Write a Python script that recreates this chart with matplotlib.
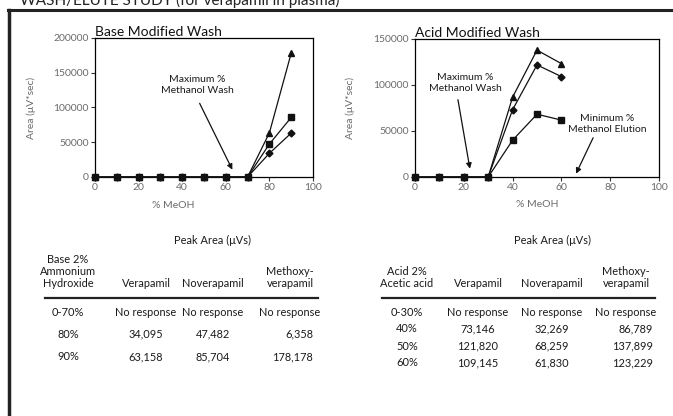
import numpy as np
import matplotlib
matplotlib.use("Agg")
import matplotlib.pyplot as plt
from matplotlib.lines import Line2D

plt.rcParams['font.family'] = ['Lato', 'DejaVu Sans']

W, H = 673, 416

# base modified wash
base_x = [0, 10, 20, 30, 40, 50, 60, 70, 80, 90]
base_verapamil = [0, 0, 0, 0, 0, 0, 0, 0, 34095, 63158]
base_noverapamil = [0, 0, 0, 0, 0, 0, 0, 0, 47482, 85704]
base_methoxy = [0, 0, 0, 0, 0, 0, 0, 0, 63580, 178178]

# acid modified wash
acid_x = [0, 10, 20, 30, 40, 50, 60]
acid_verapamil = [0, 0, 0, 0, 73146, 121820, 109145]
acid_noverapamil = [0, 0, 0, 0, 40000, 68259, 61830]
acid_methoxy = [0, 0, 0, 0, 86789, 137899, 123229]

# tables
col_names = ["Verapamil", "Noverapamil", "Methoxy-\nverapamil"]
base_rows = ["0-70%", "80%", "90%"]
base_table = [["No response", "No response", "No response"],
              ["34,095", "47,482", "6,358"],
              ["63,158", "85,704", "178,178"]]
acid_rows = ["0-30%", "40%", "50%", "60%"]
acid_table = [["No response", "No response", "No response"],
              ["73,146", "32,269", "86,789"],
              ["121,820", "68,259", "137,899"],
              ["109,145", "61,830", "123,229"]]

GRAY = '#6b6b6b'
INK = '#1a1a1a'


def fx(x):
    return x / W


def fy(y):
    return 1 - y / H


fig = plt.figure(figsize=(W / 100, H / 100), dpi=100)

# frame of the page
fig.add_artist(Line2D([fx(9), fx(9)], [fy(10), fy(420)], color='#222222', lw=2.5))
fig.add_artist(Line2D([fx(8), fx(680)], [fy(10), fy(10)], color='#222222', lw=2.2))
fig.text(fx(20), fy(5), "WASH/ELUTE STUDY (for verapamil in plasma)",
         fontsize=11, color='#222222', va='baseline')


def make_axes(left, right, top, bottom):
    return fig.add_axes([fx(left), fy(bottom), fx(right - left), (bottom - top) / H])


def style(ax, title, ymax, xlab_x, ylab_x):
    ax.set_xlim(0, 100)
    ax.set_ylim(0, ymax)
    ax.set_xticks(range(0, 101, 20))
    ax.set_yticks(range(0, ymax + 1, 50000))
    ax.tick_params(direction='out', length=3, width=0.8, labelsize=7.5,
                   labelcolor=GRAY, color='#333333', pad=1.5)
    for sp in ax.spines.values():
        sp.set_linewidth(0.9)
    ax.set_title(title, loc='left', fontsize=10, pad=1, color='#111111')
    ax.set_xlabel("% MeOH", fontsize=7.5, color=GRAY)
    ax.xaxis.set_label_coords(xlab_x, -0.17)
    ax.set_ylabel("Area (\u03bcV*sec)", fontsize=7.5, color=GRAY)
    ax.yaxis.set_label_coords(ylab_x, 0.5)


def series(ax, x, y, marker, ms):
    ax.plot(x, y, color='#111111', lw=0.9, marker=marker, ms=ms, clip_on=False,
            zorder=3)


def note(ax, text, pos, tail, head):
    ax.text(pos[0], pos[1], text, ha='center', va='center', fontsize=7.5,
            linespacing=1.3, color=INK)
    ax.annotate("", xy=head, xytext=tail,
                arrowprops=dict(arrowstyle='-|>', color='#111111', lw=0.9,
                                mutation_scale=8, shrinkA=0, shrinkB=0))


ax1 = make_axes(95, 313, 38, 177)
series(ax1, base_x, base_verapamil, 'D', 3.5)
series(ax1, base_x, base_noverapamil, 's', 3.8)
series(ax1, base_x, base_methoxy, '^', 4.2)
style(ax1, "Base Modified Wash", 200000, 0.36, -0.27)
note(ax1, "Maximum %\nMethanol Wash", (47, 132000), (48, 106000), (63, 10500))

ax2 = make_axes(415, 659, 39, 177)
series(ax2, acid_x, acid_verapamil, 'D', 3.5)
series(ax2, acid_x, acid_noverapamil, 's', 3.8)
series(ax2, acid_x, acid_methoxy, '^', 4.2)
style(ax2, "Acid Modified Wash", 150000, 0.5, -0.245)
note(ax2, "Maximum %\nMethanol Wash", (20.5, 102000), (17.6, 84000), (22.5, 9000))
note(ax2, "Minimum %\nMethanol Elution", (78.7, 57500), (73, 42600), (66, 3600))


def table(head_x, first_col, rows, cells, col_x, ys, rule, right_x):
    fs = 7.9
    fig.text(fx(head_x), fy(240), "Peak Area (\u03bcVs)", fontsize=fs,
             ha='center', va='center', color=INK)
    fig.text(fx(col_x[0]), fy(289), first_col, fontsize=fs, ha='center',
             va='bottom', color=INK, linespacing=1.1, ma='center')
    for name, cx in zip(col_names, col_x[1:]):
        fig.text(fx(cx), fy(289), name, fontsize=fs, ha='center', va='bottom',
                 color=INK, linespacing=1.1, ma='center')
    fig.add_artist(Line2D([fx(rule[0]), fx(rule[1])], [fy(298), fy(298)],
                          color='#222222', lw=1.6))
    for lab, vals, y in zip(rows, cells, ys):
        fig.text(fx(col_x[0]), fy(y), lab, fontsize=fs, ha='center',
                 va='center', color=INK)
        for j, v in enumerate(vals):
            if v == "No response" or j < 2:
                fig.text(fx(col_x[j + 1]), fy(y), v, fontsize=fs, ha='center',
                         va='center', color=INK)
            else:
                fig.text(fx(right_x), fy(y), v, fontsize=fs, ha='right',
                         va='center', color=INK)


table(213, "Base 2%\nAmmonium\nHydroxide", base_rows, base_table,
      [68, 146, 213, 290], [312, 334, 357], (45, 318), 313)
table(552, "Acid 2%\nAcetic acid", acid_rows, acid_table,
      [407, 478, 552, 626], [312, 329, 346, 363], (382, 655), 653)

fig.savefig("out.png", dpi=100)
